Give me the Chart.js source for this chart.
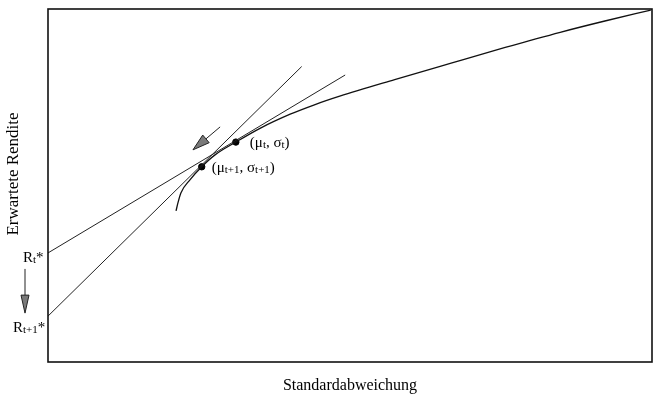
<!DOCTYPE html>
<html>
<head>
<meta charset="utf-8">
<script src="https://cdn.jsdelivr.net/npm/chart.js@4.4.0/dist/chart.umd.min.js"></script>
<style>
  html, body { margin: 0; padding: 0; background: #fff; }
  #wrap { width: 659px; height: 397px; }
</style>
</head>
<body>
<div id="wrap"><canvas id="chart"></canvas></div>
<script>
// Effizienzkurve (x = Standardabweichung, y = erwartete Rendite), Werte 0..100
const frontierX = [21.2, 21.5, 22.0, 23.5, 25.45, 27.6, 31.1, 35.1, 40.1, 44.0, 48.3, 57.4, 66.6, 75.7, 84.8, 92.2, 99.8];
const frontierY = [42.8, 45.0, 47.9, 51.6, 55.3, 58.6, 62.3, 66.2, 70.2, 72.8, 75.3, 80.0, 84.6, 89.1, 93.4, 96.6, 99.7];

// Tangenten, beginnend bei R* auf der y-Achse
const tangentTX = [0, 49.2];
const tangentTY = [30.9, 81.3];
const tangentT1X = [0, 42.0];
const tangentT1Y = [13.0, 83.7];

// Tangentialportfolios t und t+1
const pointX = [31.1, 25.45];
const pointY = [62.3, 55.3];

// Pfeil: Verschiebung des Tangentialpunkts
const shiftArrowX = [28.5, 24.0];
const shiftArrowY = [66.6, 60.1];

const serif = '"Liberation Serif", "DejaVu Serif", serif';
const ink = '#000';

const toXY = (xs, ys) => xs.map((x, i) => ({ x: x, y: ys[i] }));

// Text mit tiefgestellten Teilen zeichnen: runs = [[text, sub], ...]
function drawRuns(ctx, x, y, runs, size) {
  ctx.textBaseline = 'middle';
  ctx.textAlign = 'left';
  runs.forEach(r => {
    let sub = r[1];
    ctx.font = (sub ? Math.round(size * 0.7) : size) + 'px ' + serif;
    ctx.fillText(r[0], x, sub ? y + size * 0.15 : y);
    x += ctx.measureText(r[0]).width;
  });
}

function drawArrow(ctx, x0, y0, x1, y1, headLen, headW) {
  let ang = Math.atan2(y1 - y0, x1 - x0);
  let bx = x1 - headLen * Math.cos(ang);
  let by = y1 - headLen * Math.sin(ang);
  ctx.strokeStyle = '#222';
  ctx.lineWidth = 1;
  ctx.beginPath();
  ctx.moveTo(x0, y0);
  ctx.lineTo(bx, by);
  ctx.stroke();
  let nx = -Math.sin(ang) * headW / 2;
  let ny = Math.cos(ang) * headW / 2;
  ctx.beginPath();
  ctx.moveTo(x1, y1);
  ctx.lineTo(bx + nx, by + ny);
  ctx.lineTo(bx - nx, by - ny);
  ctx.closePath();
  ctx.fillStyle = '#7a7a7a';
  ctx.fill();
  ctx.stroke();
}

const decorPlugin = {
  id: 'decor',
  afterDraw(chart) {
    let ctx = chart.ctx;
    let a = chart.chartArea;
    let xs = chart.scales.x;
    let ys = chart.scales.y;
    ctx.save();

    // Rahmen
    ctx.strokeStyle = '#111';
    ctx.lineWidth = 1.6;
    ctx.strokeRect(a.left, a.top, a.right - a.left, a.bottom - a.top);

    ctx.fillStyle = ink;

    // Achsentitel
    ctx.font = '16px ' + serif;
    ctx.textAlign = 'center';
    ctx.textBaseline = 'middle';
    ctx.fillText('Standardabweichung', (a.left + a.right) / 2, 386);
    ctx.save();
    ctx.translate(14, 174);
    ctx.rotate(-Math.PI / 2);
    ctx.font = '17px ' + serif;
    ctx.fillText('Erwartete Rendite', 0, 0);
    ctx.restore();

    // R* Beschriftungen
    let yRt = ys.getPixelForValue(tangentTY[0]);
    let yRt1 = ys.getPixelForValue(tangentT1Y[0]);
    drawRuns(ctx, 23, yRt + 5, [['R', false], ['t', true], ['*', false]], 15);
    drawRuns(ctx, 13, yRt1 + 12, [['R', false], ['t+1', true], ['*', false]], 15);
    drawArrow(ctx, 25, yRt + 16, 25, yRt1 - 3, 18, 8);

    // Punktbeschriftungen
    let pxT = xs.getPixelForValue(pointX[0]);
    let pyT = ys.getPixelForValue(pointY[0]);
    let pxT1 = xs.getPixelForValue(pointX[1]);
    let pyT1 = ys.getPixelForValue(pointY[1]);
    ctx.fillStyle = ink;
    drawRuns(ctx, pxT + 14, pyT + 1, [['(μ', false], ['t', true], [', σ', false], ['t', true], [')', false]], 15);
    drawRuns(ctx, pxT1 + 10, pyT1 + 1, [['(μ', false], ['t+1', true], [', σ', false], ['t+1', true], [')', false]], 15);

    // Verschiebungspfeil
    drawArrow(ctx,
      xs.getPixelForValue(shiftArrowX[0]), ys.getPixelForValue(shiftArrowY[0]),
      xs.getPixelForValue(shiftArrowX[1]), ys.getPixelForValue(shiftArrowY[1]), 17, 10);

    ctx.restore();
  }
};

new Chart(document.getElementById('chart').getContext('2d'), {
  type: 'scatter',
  data: {
    datasets: [
      {
        label: 'Effizienzkurve',
        data: toXY(frontierX, frontierY),
        showLine: true,
        cubicInterpolationMode: 'monotone',
        borderColor: '#111',
        borderWidth: 1.3,
        pointRadius: 0
      },
      {
        label: 'Tangente t',
        data: toXY(tangentTX, tangentTY),
        showLine: true,
        borderColor: '#222',
        borderWidth: 1,
        pointRadius: 0
      },
      {
        label: 'Tangente t+1',
        data: toXY(tangentT1X, tangentT1Y),
        showLine: true,
        borderColor: '#222',
        borderWidth: 1,
        pointRadius: 0
      },
      {
        label: 'Tangentialportfolio',
        data: toXY(pointX, pointY),
        showLine: false,
        pointRadius: 3.2,
        pointStyle: 'circle',
        backgroundColor: '#000',
        borderColor: '#000'
      }
    ]
  },
  options: {
    responsive: true,
    maintainAspectRatio: false,
    animation: false,
    layout: { padding: { top: 9, right: 7, left: 0, bottom: 0 } },
    plugins: {
      legend: { display: false },
      tooltip: { enabled: false }
    },
    scales: {
      x: {
        type: 'linear',
        min: 0,
        max: 100,
        ticks: { display: false },
        grid: { display: false },
        border: { display: false },
        afterFit: s => { s.height = 35; }
      },
      y: {
        type: 'linear',
        min: 0,
        max: 100,
        ticks: { display: false },
        grid: { display: false },
        border: { display: false },
        afterFit: s => { s.width = 48; }
      }
    }
  },
  plugins: [decorPlugin]
});
</script>
</body>
</html>
